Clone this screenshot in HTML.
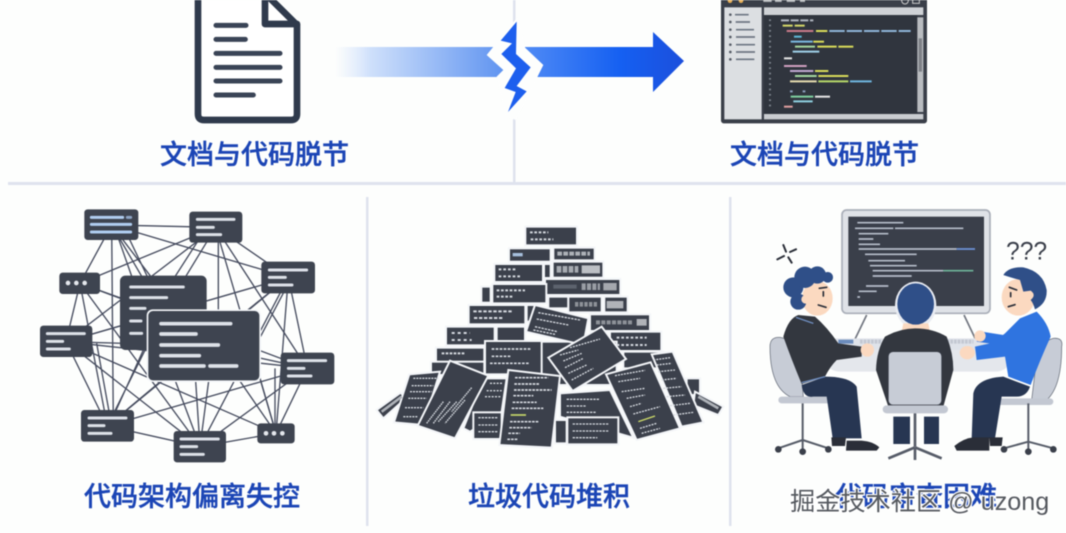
<!DOCTYPE html>
<html><head><meta charset="utf-8">
<style>
html,body{margin:0;padding:0;background:#fdfefd;width:1066px;height:533px;overflow:hidden}
svg{display:block;filter:blur(.45px)}
.t{font-family:"Liberation Sans","Noto Sans CJK SC",sans-serif;font-size:27px;font-weight:500;fill:#1b45b5;stroke:#1b45b5;stroke-width:.4px}
.w{font-family:"Liberation Sans","Noto Sans CJK SC",sans-serif;font-size:25.2px;fill:#55595f;stroke:#fff;stroke-width:2.4px;paint-order:stroke}
</style></head><body>
<svg width="1066" height="533" viewBox="0 0 1066 533" xmlns="http://www.w3.org/2000/svg">
<defs>
<linearGradient id="g1" x1="0" x2="1" y1="0" y2="0"><stop offset="0" stop-color="#dce8fc" stop-opacity="0"/><stop offset=".2" stop-color="#cfe0fb"/><stop offset="1" stop-color="#5a90f0"/></linearGradient>
<linearGradient id="g2" x1="0" x2="1" y1="0" y2="0"><stop offset="0" stop-color="#4f8af5"/><stop offset=".6" stop-color="#1560f2"/><stop offset="1" stop-color="#1c4fdc"/></linearGradient>
</defs>

<!-- dividers -->
<g fill="#dfe3ee">
<rect x="513" y="0" width="2.5" height="183"/>
<rect x="8" y="182" width="1058" height="3"/>
<rect x="366" y="197" width="2.5" height="329"/>
<rect x="729" y="197" width="2.5" height="329"/>
</g>

<!-- document icon -->
<g transform="translate(150,0) scale(.33333)" fill="none" stroke="#2f3a4c" stroke-linejoin="round" stroke-linecap="round">
<path d="M144,-20V342Q144,360 162,360H423Q441,360 441,342V75L345,-20" fill="#fff" stroke-width="20"/>
<path d="M345,-20V72H441" stroke-width="20" fill="none"/>
<g stroke-width="15" stroke="#3a4456">
<path d="M198,76H288M198,118H286M198,160H390M198,202H390M198,243H390M198,285H310"/>
</g>
</g>

<!-- arrow -->
<rect x="335" y="47" width="175" height="30" fill="url(#g1)"/>
<path d="M525,47H653V32L684,61L653,92V77H525Z" fill="url(#g2)"/>
<g transform="translate(480,10) scale(.33333)">
<path d="M112,22 L20,135 L70,180 L50,200 L78,320 L108,330 L190,165 L132,110 L132,90 Z" fill="#fdfefd"/>
<path d="M110,35 L62,92 L96,100 L64,132 L108,175 L74,234 L107,246 L84,306 L140,244 L110,228 L152,172 L108,132 Z" fill="#1d5fee"/>
</g>

<!-- code editor window -->
<g transform="translate(640,0) scale(.33333)">
<rect x="243" y="-20" width="618" height="390" rx="8" fill="#3a3f49"/>
<rect x="253" y="22" width="112" height="336" fill="#dcdfe2"/>
<rect x="372" y="22" width="478" height="23" fill="#cfd2d6"/>
<rect x="372" y="342" width="478" height="16" fill="#c9ccd0"/>
<rect x="372" y="45" width="460" height="296" fill="#30353e"/>
<rect x="832" y="52" width="18" height="284" fill="#b9bcc0"/>
<rect x="836" y="115" width="10" height="100" fill="#7d8086"/>
<circle cx="270" cy="2" r="7" fill="#e8b15a"/><circle cx="303" cy="2" r="7" fill="#e8b15a"/>
<path d="M370,2H395M405,2H425M440,2H465M480,2H495" stroke="#b4b7bb" stroke-width="8"/>
<circle cx="795" cy="2" r="10" fill="none" stroke="#ccc" stroke-width="3"/><rect x="818" y="-6" width="20" height="16" fill="none" stroke="#ccc" stroke-width="3"/>
<g stroke="#6d7683" stroke-width="5">
<path d="M285,44H326M287,66H330M288,89H342M288,111H345M288,134H345M288,156H345M288,178H343"/>
</g>
<g fill="#555b66"><circle cx="271" cy="44" r="4"/><circle cx="271" cy="66" r="4"/><circle cx="271" cy="89" r="4"/><circle cx="271" cy="111" r="4"/><circle cx="271" cy="134" r="4"/><circle cx="271" cy="156" r="4"/><circle cx="271" cy="178" r="4"/></g>
<g stroke-width="6" fill="none">
<path d="M390,58V330" stroke="#7b818b" stroke-dasharray="5 11"/>
<path d="M423,61H520" stroke="#b0b6c0" stroke-dasharray="24 5"/>
<path d="M428,77H498" stroke="#d5d86a" stroke-dasharray="30 6"/>
<path d="M440,93H520" stroke="#c97a8a"/><path d="M528,93H562" stroke="#d9dc5a"/><path d="M568,93H812" stroke="#8fb5d8" stroke-dasharray="46 6"/>
<path d="M462,110H485" stroke="#5fb9d8"/>
<path d="M452,125H518" stroke="#7ab8e0"/><path d="M520,125H552" stroke="#d9dc5a"/>
<path d="M465,140H525" stroke="#a5d8a0"/><path d="M532,140H590" stroke="#d9dc5a"/><path d="M595,140H640" stroke="#d9dc5a"/>
<path d="M458,155H538" stroke="#9fd0e8"/>
<path d="M432,175H456" stroke="#e6e6e6"/>
<path d="M432,198H500" stroke="#d0a0c0"/>
<path d="M450,213H520" stroke="#c0a8d0"/><path d="M525,213H565" stroke="#d9dc5a"/>
<path d="M465,228H530" stroke="#a5d8a0"/><path d="M535,228H625" stroke="#d9dc5a"/>
<path d="M450,244H530" stroke="#e6dcb0"/><path d="M535,244H625" stroke="#b6d86a"/><path d="M630,244H695" stroke="#6fb6e0"/>
<path d="M450,274H508" stroke="#8ea1c0" stroke-dasharray="8 30"/>
<path d="M452,290H520" stroke="#7fd0a0"/><path d="M525,290H570" stroke="#e6e6e6"/>
<path d="M460,304H518" stroke="#8fd0e0"/>
<path d="M432,320H458" stroke="#e0a0a0"/>
</g>
</g>

<!-- network -->
<g transform="translate(30,200) scale(.33333)">
<g stroke="#454b5e" stroke-width="4" fill="none">
<path d="M245,75L557,82M245,75L150,250M245,75L775,232M245,75L520,437M245,75L250,678M245,75L400,340M290,100L400,330M260,100L330,300"/>
<path d="M557,82L150,250M557,82L108,425M557,82L775,232M565,82V440M557,82L832,505M557,82L400,340M530,82L390,300M557,82L738,700"/>
<path d="M150,250L108,425M150,250L232,678M150,250L510,740M150,250L400,340M150,250L832,505"/>
<path d="M775,232L400,340M775,232L520,437M775,232L832,505M775,232L738,700M775,232L510,740M775,232L108,425M775,232L232,678M770,260L660,470"/>
<path d="M108,425L232,678M108,425L510,740M108,425L738,700M108,425L520,437M108,425L400,340M108,425L832,505M200,430L245,678"/>
<path d="M832,505L738,700M832,505L232,678M832,505L510,740M832,505L520,437M735,505V700"/>
<path d="M738,700L510,740M232,678L510,740M520,437L232,678M490,437L510,740M550,437L510,740M420,500L510,740M600,500L738,700M680,500L738,700M400,340L232,678M340,450L245,660"/>
</g>
<g fill="#3e4450">
<rect x="163" y="28" width="162" height="92" rx="10"/>
<rect x="478" y="35" width="159" height="93" rx="10"/>
<rect x="88" y="218" width="122" height="64" rx="10"/>
<rect x="694" y="185" width="161" height="95" rx="10"/>
<rect x="30" y="377" width="157" height="94" rx="10"/>
<rect x="752" y="458" width="161" height="95" rx="10"/>
<rect x="153" y="630" width="159" height="95" rx="10"/>
<rect x="431" y="693" width="157" height="94" rx="10"/>
<rect x="682" y="670" width="112" height="60" rx="10"/>
<rect x="270" y="227" width="260" height="223" rx="16"/>
<rect x="350" y="328" width="343" height="218" rx="18" fill="#f3f5f8"/>
<rect x="355" y="333" width="333" height="208" rx="14"/>
</g>
<g stroke="#dde1e8" stroke-width="9" stroke-linecap="round" fill="none">
<path d="M184,52H278M184,73H302M184,96H302" stroke="#b0cdf0"/>
<path d="M292,52H302" stroke="#8da4c4"/>
<path d="M502,58H612M502,82H550M502,104H572"/>
<path d="M718,210H830M718,232H766M718,255H786"/>
<path d="M52,401H163M52,424H98M52,447H118"/>
<path d="M775,482H887M775,505H822M775,528H843"/>
<path d="M177,654H288M177,677H222M177,700H243"/>
<path d="M453,717H565M453,740H500M453,763H520"/>
<path d="M302,261H460M302,293H410M302,325H345M302,363H333M302,400H335"/>
<path d="M393,371H602M393,402H498M393,435H565M393,467H508M393,498H522M540,498H620" stroke-width="11"/>
</g>
<g fill="#e4e7ec"><circle cx="114" cy="249" r="7"/><circle cx="139" cy="249" r="7"/><circle cx="164" cy="249" r="7"/><circle cx="708" cy="700" r="7"/><circle cx="732" cy="700" r="7"/><circle cx="757" cy="700" r="7"/></g>
</g>

<!-- pile -->
<g transform="translate(370,215) scale(.33333)">
<g fill="#3b404b" stroke="#f3f5f8" stroke-width="6">
<rect x="466" y="35" width="155" height="56"/>
<rect x="417" y="100" width="125" height="40"/>
<rect x="550" y="98" width="124" height="38"/>
<rect x="522" y="147" width="20" height="42"/>
<rect x="373" y="147" width="146" height="54"/>
<rect x="548" y="140" width="152" height="48"/>
<rect x="334" y="215" width="28" height="48"/>
<rect x="525" y="192" width="226" height="48"/>
<rect x="367" y="207" width="162" height="58"/>
<rect x="535" y="245" width="60" height="35"/>
<rect x="595" y="245" width="100" height="47"/>
<rect x="703" y="245" width="70" height="47"/>
<rect x="296" y="270" width="170" height="58"/>
<rect x="470" y="270" width="30" height="50"/>
<rect x="660" y="298" width="180" height="50"/>
<rect x="228" y="335" width="146" height="56"/>
<rect x="380" y="335" width="85" height="45"/>
<rect x="720" y="350" width="154" height="58"/>
<rect x="198" y="398" width="145" height="50"/>
<rect x="183" y="440" width="160" height="40"/>
<rect x="500" y="380" width="240" height="130"/>
<rect x="760" y="410" width="120" height="50"/>
<polygon points="950,490 990,490 990,540 950,540"/>
<polygon points="975,530 1060,575 1045,600 970,570"/>
<polygon points="20,585 92,533 107,550 40,610"/>
<rect x="345" y="378" width="170" height="100"/>
<polygon points="495,270 655,310 640,390 468,350"/>
<polygon points="118,478 210,470 160,630 72,622"/>
<polygon points="340,490 410,490 395,590 300,650 280,640"/>
<polygon points="570,535 720,525 790,668 570,605"/>
<rect x="555" y="615" width="35" height="70"/>
<polygon points="845,418 908,410 1000,622 935,635"/>
<polygon points="695,335 768,432 608,528 535,428"/>
<polygon points="240,437 355,482 255,670 143,632"/>
<rect x="310" y="592" width="85" height="80"/>
<polygon points="708,478 842,442 930,640 800,675"/>
<polygon points="415,465 570,483 545,698 388,690"/>
<rect x="592" y="607" width="153" height="81"/>
</g>
<g fill="none" stroke="#d6dae0" stroke-width="6">
<path d="M480,52H535M482,73H550" stroke-dasharray="8 5"/>
<path d="M428,119H458" stroke="#a7c0dd" stroke-width="10"/>
<path d="M562,116H660" stroke="#aeb2b8" stroke-width="12" stroke-dasharray="14 4"/>
<path d="M386,163H440M386,184H450" stroke-dasharray="8 6"/>
<path d="M380,226H465M380,245H432" stroke-dasharray="8 5"/>
<path d="M560,163H625" stroke="#a7abb1" stroke-width="20" stroke-dasharray="14 4"/>
<path d="M635,163H690" stroke="#bcbfc4" stroke-width="24"/>
<path d="M550,215H620" stroke="#5d636e" stroke-width="12"/>
<path d="M635,215H690" stroke="#9a9ea5" stroke-width="20" stroke-dasharray="12 4"/>
<path d="M700,215H740" stroke="#a5a8ae" stroke-width="22"/>
<path d="M615,268H685" stroke="#8e9299" stroke-width="14" stroke-dasharray="10 4"/>
<path d="M710,269H760" stroke="#b0b3b8" stroke-width="22"/>
<path d="M310,289H430M312,309H400" stroke-dasharray="10 5"/>
<path d="M678,322H790" stroke="#8e9299" stroke-width="12" stroke-dasharray="12 4"/>
<path d="M800,322H830" stroke="#b0b3b8" stroke-width="20"/>
<path d="M245,354H300M245,375H305" stroke-dasharray="9 9"/>
<path d="M740,368H830M740,390H830" stroke-dasharray="8 6"/>
<path d="M215,415H285" stroke-dasharray="8 4"/>
<path d="M365,402H485M365,424H425M360,445H480" stroke-width="5" stroke-dasharray="8 4"/>
<path d="M505,293L630,315M500,312L595,330M495,335L562,350M490,345L555,358" stroke-width="4" stroke-dasharray="7 3"/>
<path d="M600,398L690,372M570,420L625,405M580,438L635,415M585,458L640,430M595,475L650,450M605,495L670,460" stroke-width="4" stroke-dasharray="6 3"/>
<path d="M305,518L245,590M285,555L225,625M260,560L205,620M240,560L190,625M220,560L170,625" stroke-width="4" stroke-dasharray="5 2"/>
<path d="M130,490H205M125,512H190M120,530H185M115,550H170M105,578H160M100,605H145" stroke-width="4" stroke-dasharray="6 3"/>
<path d="M435,488H535M433,507H510M432,525H545M430,542H490M428,562H500M425,580H520" stroke-width="5" stroke-dasharray="8 3"/>
<path d="M422,600H468" stroke="#c7d86a" stroke-width="5"/><path d="M420,620H505M418,638H485M415,655H450M412,673H445" stroke-width="5" stroke-dasharray="8 3"/>
<path d="M735,482L825,466M745,500L810,490M755,530L825,520M770,550L825,540M780,575L815,565M790,597L870,575" stroke-width="4" stroke-dasharray="6 3"/>
<path d="M805,620L855,603" stroke="#cfdc6a" stroke-width="4"/><path d="M810,640L860,625M815,655L870,640" stroke-width="4" stroke-dasharray="6 3"/>
<path d="M850,435L900,428M860,450L905,445M865,470L915,465M875,495L920,490M880,520L935,515M890,545L945,540M900,572L960,565M910,600L970,592" stroke-width="4" stroke-dasharray="6 3"/>
<path d="M590,553H690M590,573H650M590,592H680" stroke-width="4" stroke-dasharray="7 3"/>
<path d="M325,608H385M325,630H385M325,650H385" stroke-width="4" stroke-dasharray="7 3"/>
<path d="M608,627H715M608,648H718M608,668H682" stroke-width="4" stroke-dasharray="7 3"/>
<path d="M360,505H400M350,527H395M345,545H395" stroke-width="4" stroke-dasharray="6 4"/>
<path d="M35,590L95,545" stroke="#aeb2b8" stroke-width="8"/>
<path d="M985,545L1045,580" stroke="#aeb2b8" stroke-width="8"/>
</g>
</g>

<!-- people scene -->
<g transform="translate(760,200) scale(.33333)">
<!-- monitor -->
<rect x="246" y="30" width="444" height="310" rx="14" fill="#dfe2e7" stroke="#a9aeb8" stroke-width="5"/>
<rect x="265" y="50" width="407" height="268" fill="#3a3f4a"/>
<g fill="none" stroke="#b6bdca" stroke-width="5">
<path d="M292,68H430M285,85H400M405,85H610M296,101H385M296,117H340M296,133H360"/>
<path d="M296,147H590"/><path d="M590,147H645" stroke="#6d92d8"/>
<path d="M315,163H470M325,182H435M330,197H470"/>
<path d="M338,212H550"/><path d="M550,212H640" stroke="#6fb59a"/>
<path d="M338,228H455M318,258H385M296,274H350M292,291H300"/>
</g>
<!-- stands, pen lines -->
<path d="M320,345L280,428M612,345L650,425" stroke="#70757f" stroke-width="5" fill="none"/>
<!-- desk -->
<path d="M225,415H370V450H225ZM555,415H705V450H555Z" fill="#dfe3ea"/>
<path d="M235,425H280" stroke="#6b8cbc" stroke-width="12"/>
<path d="M300,425H365M560,425H640" stroke="#c3c8d2" stroke-width="12" stroke-dasharray="8 3"/>
<path d="M195,470Q200,515 240,515H700Q740,515 745,490L740,450H200Z" fill="#e4e7ec"/>
<!-- left chair -->
<path d="M30,440Q30,410 60,412Q105,420 120,470L130,590H90Q30,560 30,440Z" fill="#c7ccd6" stroke="#5c6370" stroke-width="2"/>
<path d="M65,600H240" stroke="#c3c8d2" stroke-width="20" stroke-linecap="round"/>
<path d="M128,610V720M128,720L55,745M128,720L128,752M128,720L205,745" stroke="#565c68" stroke-width="6" fill="none"/>
<g fill="#3a3f4a"><circle cx="55" cy="748" r="10"/><circle cx="128" cy="755" r="10"/><circle cx="205" cy="748" r="10"/></g>
<!-- left person -->
<path d="M125,555Q130,595 160,590H200L218,715H305L290,560Q270,530 195,530Z" fill="#273652"/>
<path d="M216,738H255L258,712H214Z" fill="#2a2e38"/>
<path d="M260,722H305Q340,725 358,742L350,752H258Z" fill="#2a2e38"/>
<path d="M70,410Q85,355 115,345L165,350Q200,380 235,430L305,440L305,470L230,480Q210,500 195,530L125,552Q95,480 70,410Z" fill="#33373f"/>
<path d="M108,352L160,370M125,548L195,530" stroke="#6f8ec0" stroke-width="4" fill="none"/>
<circle cx="322" cy="450" r="20" fill="#fbd9c0"/>
<ellipse cx="172" cy="295" rx="46" ry="52" fill="#fbd9c0"/>
<g fill="#2f4f88"><circle cx="100" cy="262" r="30"/><circle cx="115" cy="305" r="24"/><circle cx="135" cy="232" r="32"/><circle cx="172" cy="225" r="26"/><circle cx="203" cy="232" r="16"/></g>
<circle cx="137" cy="298" r="13" fill="#fbd9c0"/>
<path d="M178,265L200,262M190,275V288M175,315L198,322" stroke="#2a2e38" stroke-width="5" fill="none" stroke-linecap="round"/>
<path d="M70,135L78,155M108,148L90,156M52,178L72,168M85,172L95,188" stroke="#2a2e38" stroke-width="6" stroke-linecap="round"/>
<!-- right chair -->
<path d="M905,440Q910,412 880,415Q840,425 830,475L815,600H860Q905,560 905,440Z" fill="#c7ccd6" stroke="#5c6370" stroke-width="2"/>
<path d="M695,605H870" stroke="#c3c8d2" stroke-width="20" stroke-linecap="round"/>
<path d="M805,610V725M805,725L732,745M805,725V752M805,725L880,745" stroke="#565c68" stroke-width="6" fill="none"/>
<g fill="#3a3f4a"><circle cx="732" cy="748" r="10"/><circle cx="805" cy="755" r="10"/><circle cx="880" cy="748" r="10"/></g>
<!-- right person -->
<path d="M810,560Q800,590 770,590H725L705,715H635L640,580Q650,535 730,530Z" fill="#273652"/>
<path d="M690,738H725L728,712H688Z" fill="#2a2e38"/>
<path d="M583,738Q610,715 640,712H688V752H590Z" fill="#2a2e38"/>
<path d="M780,355L830,335Q865,370 872,410Q840,480 812,555L745,530L735,470L650,480L645,440L700,428L735,400Z" fill="#2f74e0"/>
<path d="M665,395L730,405L700,432L650,425Z" fill="#2f74e0"/>
<circle cx="660" cy="408" r="17" fill="#fbd9c0"/>
<ellipse cx="622" cy="458" rx="23" ry="20" fill="#fbd9c0"/>
<ellipse cx="775" cy="292" rx="50" ry="55" fill="#fbd9c0"/>
<path d="M730,225Q745,200 790,202Q850,215 860,270Q862,310 825,328Q820,310 812,300Q830,285 812,272L790,275L780,240Q760,235 730,225Z" fill="#2f4f88"/>
<path d="M748,262L770,270M752,278V290M745,320L765,314" stroke="#2a2e38" stroke-width="5" fill="none" stroke-linecap="round"/>
<text x="738" y="178" font-family="'Liberation Sans',sans-serif" font-size="74" fill="#3a3f4a">???</text>
<!-- middle person -->
<ellipse cx="467" cy="315" rx="62" ry="70" fill="#e9ecf2"/>
<path d="M400,650H450V732H400ZM492,650H537V732H492Z" fill="#273652"/>
<path d="M430,370H505L510,395H425Z" fill="#fbd9c0"/>
<path d="M375,410Q420,385 465,385Q520,385 560,410Q580,460 580,510L550,620H385L348,510Q350,450 375,410Z" fill="#33373f"/>
<ellipse cx="467" cy="312" rx="55" ry="62" fill="#2f4f88"/>
<rect x="385" y="455" width="160" height="160" rx="14" fill="#c7ccd6" stroke="#3a3f4a" stroke-width="2"/>
<path d="M380,628H552" stroke="#c3c8d2" stroke-width="24" stroke-linecap="round"/>
<path d="M465,640V740M465,742L385,775M465,742L465,780M465,742L545,775" stroke="#565c68" stroke-width="8" fill="none"/>
</g>

<!-- labels -->
<text class="t" x="160" y="164">文档与代码脱节</text>
<text class="t" x="730" y="164">文档与代码脱节</text>
<text class="t" x="84" y="506">代码架构偏离失控</text>
<text class="t" x="468" y="506">垃圾代码堆积</text>
<text class="t" x="835" y="506">代码审查困难</text>
<text class="w" x="790" y="510" xml:space="preserve">掘金技术社区 @ uzong</text>
</svg>
</body></html>
